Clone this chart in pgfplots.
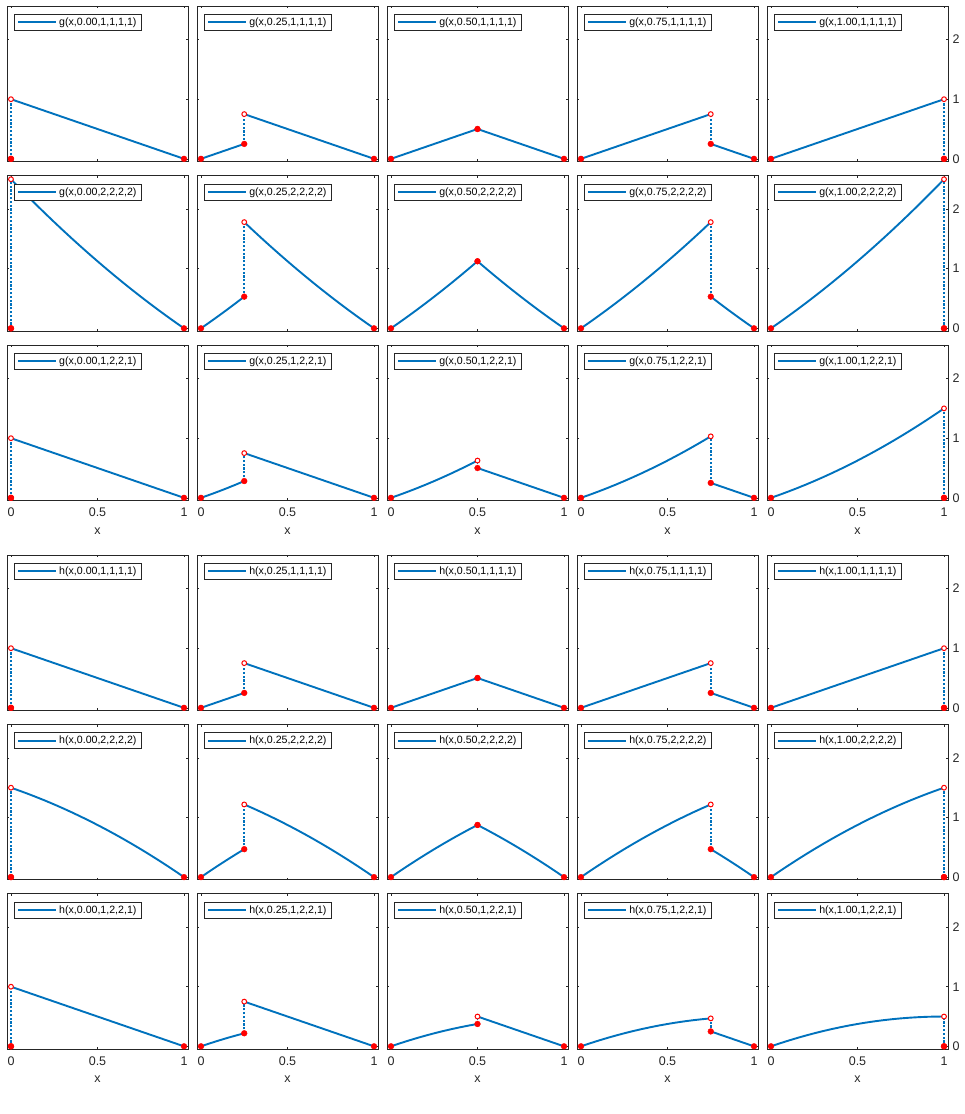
\documentclass[border=0pt]{standalone}
\usepackage{fontspec}
\setmainfont{Liberation Sans}
\usepackage{pgfplots}
\usepackage{pgfplotstable}
\pgfplotsset{compat=1.18}
\definecolor{mblue}{RGB}{0,114,189}
\definecolor{axgray}{RGB}{38,38,38}

\pgfplotstableread{
x L R
0 0 1
0.25 0.25 0.75
0.5 0.5 0.5
0.75 0.75 0.25
1 1 0
}\tabA

\pgfplotstableread{
x L R
0 0 2.5
0.05 0.10125 2.35125
0.10 0.205 2.205
0.15 0.31125 2.06125
0.20 0.42 1.92
0.25 0.53125 1.78125
0.30 0.645 1.645
0.35 0.76125 1.51125
0.40 0.88 1.38
0.45 1.00125 1.25125
0.50 1.125 1.125
0.55 1.25125 1.00125
0.60 1.38 0.88
0.65 1.51125 0.76125
0.70 1.645 0.645
0.75 1.78125 0.53125
0.80 1.92 0.42
0.85 2.06125 0.31125
0.90 2.205 0.205
0.95 2.35125 0.10125
1 2.5 0
}\tabGB

\pgfplotstableread{
x L R
0 0 1
0.05 0.05125 0.95
0.10 0.105 0.9
0.15 0.16125 0.85
0.20 0.22 0.8
0.25 0.28125 0.75
0.30 0.345 0.7
0.35 0.41125 0.65
0.40 0.48 0.6
0.45 0.55125 0.55
0.50 0.625 0.5
0.55 0.70125 0.45
0.60 0.78 0.4
0.65 0.86125 0.35
0.70 0.945 0.3
0.75 1.03125 0.25
0.80 1.12 0.2
0.85 1.21125 0.15
0.90 1.305 0.1
0.95 1.40125 0.05
1 1.5 0
}\tabGC

\pgfplotstableread{
x L R
0 0 1.5
0.05 0.09875 1.44875
0.10 0.195 1.395
0.15 0.28875 1.33875
0.20 0.38 1.28
0.25 0.46875 1.21875
0.30 0.555 1.155
0.35 0.63875 1.08875
0.40 0.72 1.02
0.45 0.79875 0.94875
0.50 0.875 0.875
0.55 0.94875 0.79875
0.60 1.02 0.72
0.65 1.08875 0.63875
0.70 1.155 0.555
0.75 1.21875 0.46875
0.80 1.28 0.38
0.85 1.33875 0.28875
0.90 1.395 0.195
0.95 1.44875 0.09875
1 1.5 0
}\tabHB

\pgfplotstableread{
x L R
0 0 1
0.05 0.04875 0.95
0.10 0.095 0.9
0.15 0.13875 0.85
0.20 0.18 0.8
0.25 0.21875 0.75
0.30 0.255 0.7
0.35 0.28875 0.65
0.40 0.32 0.6
0.45 0.34875 0.55
0.50 0.375 0.5
0.55 0.39875 0.45
0.60 0.42 0.4
0.65 0.43875 0.35
0.70 0.455 0.3
0.75 0.46875 0.25
0.80 0.48 0.2
0.85 0.48875 0.15
0.90 0.495 0.1
0.95 0.49875 0.05
1 0.5 0
}\tabHC

\pgfplotsset{
  legend image code/.code={\draw[#1,/tikz/.cd,draw=mblue,line width=1.9pt,yshift=0pt] (0pt,0pt) -- (38pt,0pt);},
  panel/.style={
    width=181pt, height=155.5pt, scale only axis,
    xmin=-0.023, xmax=1.023, ymin=-0.045, ymax=2.563,
    xtick={0,0.5,1}, ytick={0,1,2},
    xticklabels={}, yticklabels={},
    tick align=inside, major tick length=2.2pt,
    axis line style={draw=axgray, line width=0.7pt},
    tick style={draw=axgray, line width=0.6pt},
    ticklabel style={font=\fontsize{12.5}{14}\selectfont, text=axgray},
    xticklabel style={yshift=-4pt},
    yticklabel style={xshift=1pt},
    label style={font=\fontsize{12.5}{14}\selectfont, text=axgray},
    xlabel style={yshift=-4pt},
    /pgf/number format/assume math mode=true,
    legend style={at={(0,1)}, anchor=north west, xshift=7pt, yshift=-8pt,
      draw=axgray, line width=0.7pt, font=\fontsize{10.6}{12}\selectfont,
      inner xsep=3pt, inner ysep=1.5pt},
    legend cell align=left,
  },
  xlab/.style={xticklabels={0,0.5,1}, xlabel={x}},
  ylab/.style={yticklabel pos=right, yticklabels={0,1,2}},
}

\newcommand{\panel}[8]{%
\begin{axis}[panel, at={(#1pt,-#2pt)}, anchor=north west, #6]
\addlegendimage{mblue, line width=1.9pt}
\addlegendentry{#5}
\addplot[mblue, line width=1.9pt, dash pattern=on 2.2pt off 1.6pt, forget plot] coordinates {(#4,#7) (#4,#8)};
\addplot[mblue, line width=1.9pt, forget plot, restrict x to domain=0:#4] table[x=x,y=L] {#3};
\addplot[mblue, line width=1.9pt, forget plot, restrict x to domain=#4:1] table[x=x,y=R] {#3};
\addplot[only marks, mark=*, mark size=2.4pt, mark options={draw=red, fill=white, line width=1pt}, forget plot] coordinates {(#4,#8)};
\addplot[only marks, mark=*, mark size=2.9pt, red, mark options={draw=red, fill=red}, forget plot] coordinates {(0,0) (1,0) (#4,#7)};
\end{axis}}

\begin{document}
\begin{tikzpicture}
\path[use as bounding box] (0pt,0pt) rectangle (965pt,-1114pt);
% row 1
\panel{7}{6}{\tabA}{0}{g(x,0.00,1,1,1,1)}{}{0}{1}
\panel{197}{6}{\tabA}{0.25}{g(x,0.25,1,1,1,1)}{}{0.25}{0.75}
\panel{387}{6}{\tabA}{0.5}{g(x,0.50,1,1,1,1)}{}{0.5}{0.5}
\panel{577}{6}{\tabA}{0.75}{g(x,0.75,1,1,1,1)}{}{0.25}{0.75}
\panel{767}{6}{\tabA}{1}{g(x,1.00,1,1,1,1)}{ylab}{0}{1}
% row 2
\panel{7}{175.5}{\tabGB}{0}{g(x,0.00,2,2,2,2)}{}{0}{2.5}
\panel{197}{175.5}{\tabGB}{0.25}{g(x,0.25,2,2,2,2)}{}{0.53125}{1.78125}
\panel{387}{175.5}{\tabGB}{0.5}{g(x,0.50,2,2,2,2)}{}{1.125}{1.125}
\panel{577}{175.5}{\tabGB}{0.75}{g(x,0.75,2,2,2,2)}{}{0.53125}{1.78125}
\panel{767}{175.5}{\tabGB}{1}{g(x,1.00,2,2,2,2)}{ylab}{0}{2.5}
% row 3
\panel{7}{345}{\tabGC}{0}{g(x,0.00,1,2,2,1)}{xlab}{0}{1}
\panel{197}{345}{\tabGC}{0.25}{g(x,0.25,1,2,2,1)}{xlab}{0.28125}{0.75}
\panel{387}{345}{\tabGC}{0.5}{g(x,0.50,1,2,2,1)}{xlab}{0.5}{0.625}
\panel{577}{345}{\tabGC}{0.75}{g(x,0.75,1,2,2,1)}{xlab}{0.25}{1.03125}
\panel{767}{345}{\tabGC}{1}{g(x,1.00,1,2,2,1)}{xlab,ylab}{0}{1.5}
% row 4
\panel{7}{555}{\tabA}{0}{h(x,0.00,1,1,1,1)}{}{0}{1}
\panel{197}{555}{\tabA}{0.25}{h(x,0.25,1,1,1,1)}{}{0.25}{0.75}
\panel{387}{555}{\tabA}{0.5}{h(x,0.50,1,1,1,1)}{}{0.5}{0.5}
\panel{577}{555}{\tabA}{0.75}{h(x,0.75,1,1,1,1)}{}{0.25}{0.75}
\panel{767}{555}{\tabA}{1}{h(x,1.00,1,1,1,1)}{ylab}{0}{1}
% row 5
\panel{7}{724.3}{\tabHB}{0}{h(x,0.00,2,2,2,2)}{}{0}{1.5}
\panel{197}{724.3}{\tabHB}{0.25}{h(x,0.25,2,2,2,2)}{}{0.46875}{1.21875}
\panel{387}{724.3}{\tabHB}{0.5}{h(x,0.50,2,2,2,2)}{}{0.875}{0.875}
\panel{577}{724.3}{\tabHB}{0.75}{h(x,0.75,2,2,2,2)}{}{0.46875}{1.21875}
\panel{767}{724.3}{\tabHB}{1}{h(x,1.00,2,2,2,2)}{ylab}{0}{1.5}
% row 6
\panel{7}{893.5}{\tabHC}{0}{h(x,0.00,1,2,2,1)}{xlab}{0}{1}
\panel{197}{893.5}{\tabHC}{0.25}{h(x,0.25,1,2,2,1)}{xlab}{0.21875}{0.75}
\panel{387}{893.5}{\tabHC}{0.5}{h(x,0.50,1,2,2,1)}{xlab}{0.375}{0.5}
\panel{577}{893.5}{\tabHC}{0.75}{h(x,0.75,1,2,2,1)}{xlab}{0.25}{0.46875}
\panel{767}{893.5}{\tabHC}{1}{h(x,1.00,1,2,2,1)}{xlab,ylab}{0}{0.5}
\end{tikzpicture}
\end{document}
